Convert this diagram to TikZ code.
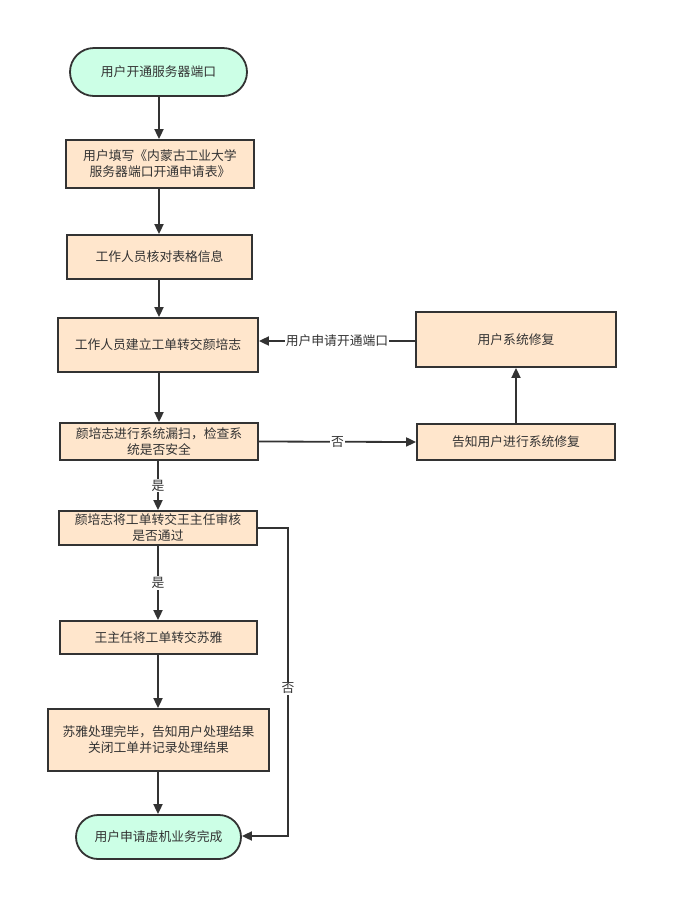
\documentclass[tikz,border=0pt]{standalone}
\usepackage{fontspec}
\setmainfont{Noto Sans CJK SC}
\usetikzlibrary{arrows.meta,shapes.misc}
\definecolor{peach}{HTML}{FFE6CC}
\definecolor{mint}{HTML}{CCFFE6}
\definecolor{edge}{HTML}{333333}
\begin{document}
\begin{tikzpicture}[x=1pt,y=-1pt,
  font=\fontsize{12.8}{16}\selectfont,
  procbox/.style={draw=edge,line width=1.8pt,fill=peach,align=center,inner sep=0pt,text=edge},
  termbox/.style={draw=edge,line width=1.8pt,fill=mint,rounded rectangle,align=center,inner sep=0pt,text=edge},
  conn/.style={draw=edge,line width=1.8pt,-{Triangle[length=10pt,width=9pt]}},
  lbl/.style={fill=white,inner sep=1pt,text=edge}]
\useasboundingbox (0,0) rectangle (678,922);
\node[termbox,minimum width=177pt,minimum height=48pt] (n1) at (158.5,72) {用户开通服务器端口};
\node[procbox,minimum width=188pt,minimum height=48pt] (n2) at (160,164) {用户填写《内蒙古工业大学\\服务器端口开通申请表》};
\node[procbox,minimum width=185pt,minimum height=44pt] (n3) at (159.5,257) {工作人员核对表格信息};
\node[procbox,minimum width=200pt,minimum height=54pt] (n4) at (158,345) {工作人员建立工单转交颜培志};
\node[procbox,minimum width=198pt,minimum height=37pt] (n5) at (159,441.5) {颜培志进行系统漏扫，检查系\\统是否安全};
\node[procbox,minimum width=198pt,minimum height=36pt] (n6) at (516,442) {告知用户进行系统修复};
\node[procbox,minimum width=200pt,minimum height=55pt] (n7) at (516,339.5) {用户系统修复};
\node[procbox,minimum width=198pt,minimum height=34pt] (n8) at (158,528) {颜培志将工单转交王主任审核\\是否通过};
\node[procbox,minimum width=197pt,minimum height=33pt] (n9) at (158.5,637.5) {王主任将工单转交苏雅};
\node[procbox,minimum width=221pt,minimum height=62pt] (n10) at (158.5,740) {苏雅处理完毕，告知用户处理结果\\关闭工单并记录处理结果};
\node[termbox,minimum width=165pt,minimum height=44pt] (n11) at (158.5,837) {用户申请虚机业务完成};
\coordinate (c1) at (288,528);
\coordinate (c2) at (288,836);
\draw[conn] (n1.south -| 159,0) -- (n2.north -| 159,0);
\draw[conn] (n2.south -| 159,0) -- (n3.north -| 159,0);
\draw[conn] (n3.south -| 159,0) -- (n4.north -| 159,0);
\draw[conn] (n4.south -| 159,0) -- (n5.north -| 159,0);
\draw[conn] (n7.west |- 0,341) -- node[lbl]{用户申请开通端口} (n4.east |- 0,341);
\draw[conn] (n5.east) -- node[lbl]{否} (n6.west);
\draw[conn] (n6) -- (n7);
\draw[conn] (n5.south -| 158,0) -- node[lbl,pos=0.5]{是} (n8.north -| 158,0);
\draw[conn] (n8.south -| 158,0) -- node[lbl,pos=0.5]{是} (n9.north -| 158,0);
\draw[conn] (n9.south -| 158,0) -- (n10.north -| 158,0);
\draw[conn] (n10.south -| 158,0) -- (n11.north -| 158,0);
\draw[conn] (n8.east) -- (c1) -- node[lbl,pos=0.52]{否} (c2) -- (n11.east |- c2);
\end{tikzpicture}
\end{document}
